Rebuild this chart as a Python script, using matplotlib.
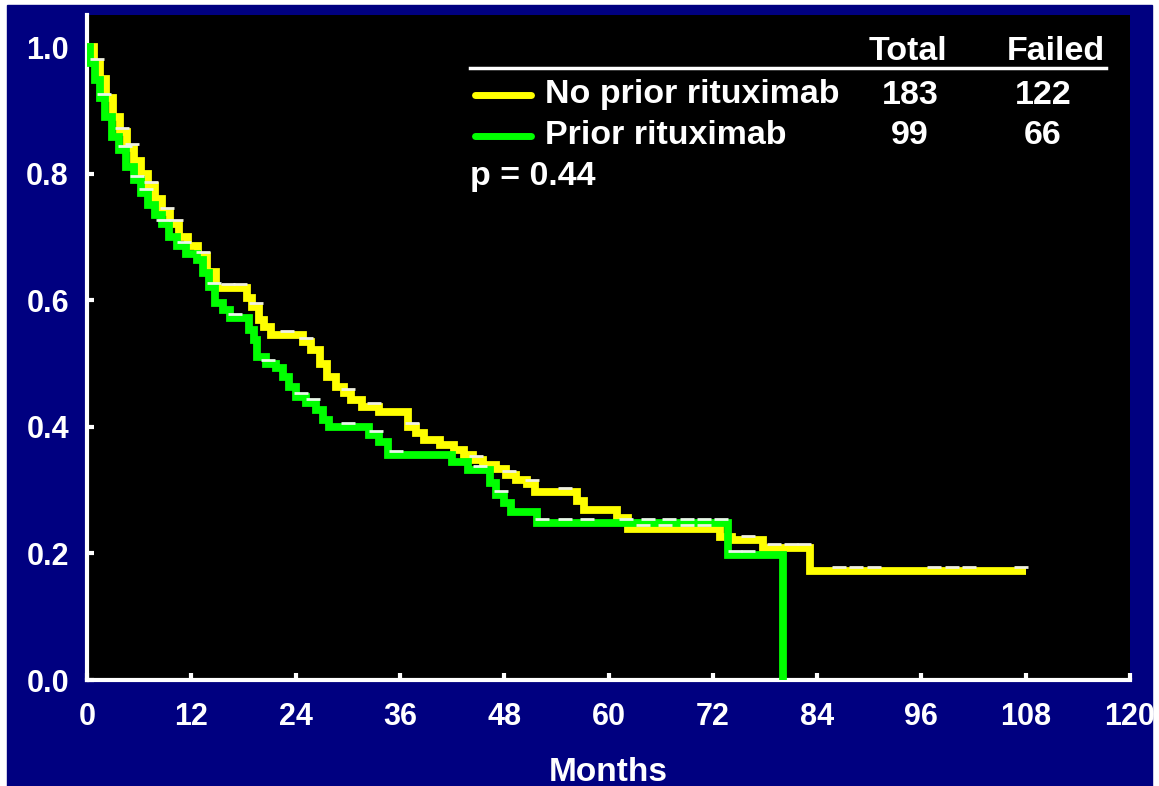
import numpy as np
import matplotlib
matplotlib.use('Agg')
import matplotlib.pyplot as plt
import matplotlib.transforms as mtransforms
from matplotlib.patches import Rectangle
from matplotlib.lines import Line2D

# Kaplan-Meier step points (months, survival)
no_prior_t = [0, 0.8, 1.5, 2.2, 3.0, 3.8, 4.6, 5.4, 6.2, 7.0, 7.8, 8.6, 9.6, 10.6,
              11.6, 12.8, 13.8, 14.8, 18.4, 19.0, 19.8, 20.4, 21.2, 24.8, 25.8, 26.8,
              27.6, 28.6, 29.6, 30.4, 31.6, 33.6, 36.9, 37.8, 38.8, 40.6, 42.2, 43.4,
              44.4, 45.6, 47.0, 48.2, 49.4, 50.6, 51.6, 56.4, 57.2, 61.0, 62.2, 72.8,
              74.2, 77.8, 83.2, 108.0]
no_prior_s = [1.0, 0.975, 0.95, 0.92, 0.89, 0.865, 0.84, 0.82, 0.80, 0.78, 0.76, 0.74,
              0.72, 0.70, 0.685, 0.67, 0.645, 0.62, 0.603, 0.589, 0.569, 0.558, 0.545,
              0.534, 0.521, 0.50, 0.479, 0.463, 0.453, 0.443, 0.431, 0.423, 0.40, 0.39,
              0.379, 0.371, 0.363, 0.355, 0.347, 0.34, 0.334, 0.324, 0.316, 0.31, 0.297,
              0.283, 0.268, 0.256, 0.238, 0.226, 0.221, 0.208, 0.172, 0.172]

prior_t = [0, 0.4, 0.9, 1.5, 2.1, 2.9, 3.7, 4.5, 5.4, 6.2, 7.0, 7.8, 8.6, 9.4, 10.4,
           11.4, 12.6, 13.3, 14.0, 14.7, 15.6, 16.4, 18.6, 19.2, 19.6, 20.6, 21.8, 22.6,
           23.2, 24.0, 25.2, 26.4, 27.2, 27.8, 32.4, 33.6, 34.6, 42.0, 43.8, 46.4, 47.0,
           48.0, 48.8, 51.8, 73.8, 80.1]
prior_s = [1.0, 0.975, 0.948, 0.92, 0.889, 0.858, 0.837, 0.81, 0.79, 0.77, 0.75, 0.735,
           0.72, 0.70, 0.685, 0.673, 0.663, 0.643, 0.621, 0.596, 0.585, 0.572, 0.553,
           0.537, 0.51, 0.50, 0.493, 0.479, 0.463, 0.447, 0.438, 0.427, 0.411, 0.40,
           0.387, 0.376, 0.355, 0.344, 0.332, 0.311, 0.292, 0.28, 0.265, 0.248, 0.197, 0.0]

# censoring times (months)
no_prior_cens = [1.2, 4.0, 5.2, 7.4, 9.2, 10.2, 13.4, 16.2, 17.6, 19.4, 23.0, 25.2, 30.0,
                 33.0, 37.4, 44.8, 48.6, 51.2, 55.0, 64.0, 66.5, 69.0, 71.0, 76.0,
                 79.0, 81.0, 82.5, 86.5, 88.5, 90.5, 97.5, 99.5, 101.5, 107.5]
prior_cens = [2.0, 4.4, 5.8, 6.8, 8.8, 11.2, 14.6, 17.0, 20.8, 24.6, 26.0, 30.0, 33.2,
              35.6, 45.2, 47.6, 52.4, 55.0, 57.5, 62.0, 64.5, 67.0, 69.0, 71.0, 73.0,
              74.5, 76.0]

x_ticks = [0, 12, 24, 36, 48, 60, 72, 84, 96, 108, 120]
y_ticks = [0.0, 0.2, 0.4, 0.6, 0.8, 1.0]

groups = ['No prior rituximab', 'Prior rituximab']
totals = ['183', '99']
failed = ['122', '66']
p_text = 'p = 0.44'

YELLOW = '#FFFF00'
GREEN = '#00FF00'
NAVY = '#000080'
W, H = 1159, 786

plt.rcParams['font.family'] = ['Liberation Sans', 'DejaVu Sans']
plt.rcParams['font.weight'] = 'bold'

fig = plt.figure(figsize=(W / 100, H / 100), dpi=100, facecolor='white')
fig.patches.append(Rectangle((7 / W, 0), (1152 - 7) / W, (H - 5) / H,
                             transform=fig.transFigure, color=NAVY, zorder=-5))

ax = fig.add_axes([87 / W, 1 - 680 / H, (1130 - 87) / W, (680 - 15) / H])
ax.set_facecolor('black')
ax.set_xlim(0, 120)
ax.set_ylim(0, 1.0506)

ax.step(no_prior_t, no_prior_s, where='post', color=YELLOW, lw=5.6,
        solid_joinstyle='miter', solid_capstyle='butt', zorder=3)
ax.step(prior_t, prior_s, where='post', color=GREEN, lw=5.6,
        solid_joinstyle='miter', solid_capstyle='butt', zorder=4)


def surv_at(t, s, c):
    i = np.searchsorted(t, c, side='right') - 1
    return np.array(s)[i]


up = mtransforms.offset_copy(ax.transData, fig=fig, x=0, y=4, units='dots')
ax.plot(no_prior_cens, surv_at(no_prior_t, no_prior_s, no_prior_cens), ls='none',
        marker='_', ms=10, mew=2, color='#F0F0E0', transform=up, zorder=5)
ax.plot(prior_cens, surv_at(prior_t, prior_s, prior_cens), ls='none',
        marker='_', ms=10, mew=2, color='#E8F8E8', transform=up, zorder=5)

for side in ['top', 'right']:
    ax.spines[side].set_visible(False)
for side in ['left', 'bottom']:
    ax.spines[side].set_color('white')
    ax.spines[side].set_linewidth(3)

ax.set_xticks(x_ticks)
ax.set_yticks(y_ticks)
ax.set_yticklabels(['%.1f' % v for v in y_ticks])
ax.tick_params(direction='in', colors='white', length=5, width=3,
               labelsize=22, labelcolor='white')
ax.tick_params(axis='x', pad=16)
ax.tick_params(axis='y', pad=13)
ax.set_xlabel('Months', color='white', fontsize=24, fontweight='bold', labelpad=18)


def fx(px):
    return px / W


def fy(py):
    return 1 - py / H


fs = 24.5
fig.text(fx(908), fy(52), 'Total', color='white', fontsize=fs, ha='center', va='center')
fig.text(fx(1056), fy(52), 'Failed', color='white', fontsize=fs, ha='center', va='center')
fig.add_artist(Line2D([fx(470), fx(1106)], [fy(68), fy(68)], color='white', lw=2.5))

rows_y = [95, 136]
for name, col, tot, fail, ry in zip(groups, [YELLOW, GREEN], totals, failed, rows_y):
    fig.add_artist(Line2D([fx(475), fx(531)], [fy(ry), fy(ry)], color=col, lw=5,
                          solid_capstyle='round'))
    fig.text(fx(545), fy(ry), name, color='white', fontsize=fs, ha='left', va='center')
    fig.text(fx(910), fy(ry), tot, color='white', fontsize=fs, ha='center', va='center')
    fig.text(fx(1043), fy(ry), fail, color='white', fontsize=fs, ha='center', va='center')

fig.text(fx(470), fy(177), p_text, color='white', fontsize=fs, ha='left', va='center')

fig.savefig('out.png', dpi=100, facecolor='white')
